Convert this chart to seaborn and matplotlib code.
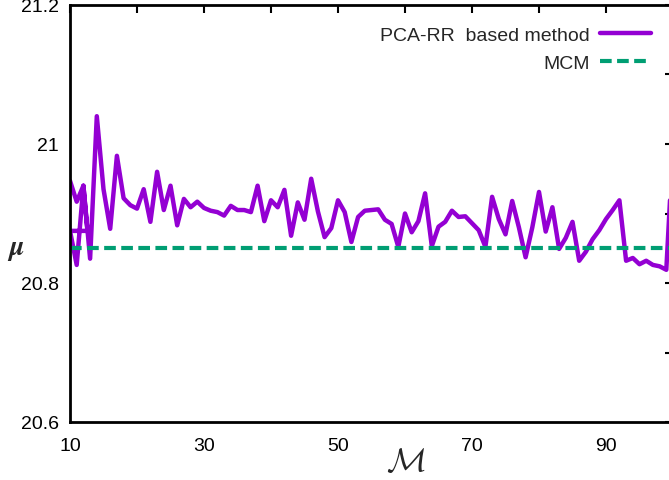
import matplotlib
matplotlib.use("Agg")
import matplotlib.pyplot as plt
import seaborn as sns
from matplotlib.ticker import FixedLocator, FixedFormatter

# sample size M (the first few runs overlap, so x is not monotonic)
m_values = [10, 11, 12, 12.6, 10, 11, 12, 13] + list(range(14, 101))
pca_rr = [20.947, 20.917, 20.94, 20.875, 20.875, 20.826, 20.94, 20.835,
          21.04, 20.935, 20.878, 20.983, 20.922, 20.912, 20.907, 20.935, 20.888, 20.96,
          20.905, 20.94, 20.883, 20.921, 20.909, 20.917, 20.908, 20.904, 20.902, 20.897,
          20.911, 20.905, 20.905, 20.902, 20.94, 20.889, 20.919, 20.909, 20.934, 20.868,
          20.916, 20.891, 20.95, 20.903, 20.866, 20.879, 20.919, 20.902, 20.859, 20.895,
          20.904, 20.905, 20.906, 20.891, 20.885, 20.852, 20.9, 20.873, 20.889, 20.929,
          20.853, 20.881, 20.888, 20.904, 20.895, 20.896, 20.886, 20.876, 20.852, 20.924,
          20.892, 20.87, 20.918, 20.88, 20.837, 20.88, 20.931, 20.874, 20.909, 20.849,
          20.865, 20.888, 20.832, 20.845, 20.863, 20.876, 20.892, 20.905, 20.919, 20.832,
          20.836, 20.827, 20.832, 20.826, 20.824, 20.819, 21.0]
mcm_value = 20.85

x_ticks = [10, 20, 30, 40, 50, 60, 70, 80, 90, 100]
x_labels = ['10', '', '30', '', '50', '', '70', '', '90', '']
y_ticks = [20.6, 20.7, 20.8, 20.9, 21.0, 21.1, 21.2]
y_labels = ['20.6', '', '20.8', '', '21', '', '21.2']

sns.set_style('white')
plt.rcParams['font.family'] = ['Liberation Sans', 'DejaVu Sans']
plt.rcParams['mathtext.fontset'] = 'cm'

fig = plt.figure(figsize=(6.69, 4.81), dpi=100)
ax = fig.add_axes([70 / 669, 58 / 481, 603 / 669, 417 / 481])

sns.lineplot(x=m_values, y=pca_rr, sort=False, estimator=None, ax=ax,
             color='#9400D3', linewidth=3.2, label='PCA-RR  based method')
ax.axhline(mcm_value, color='#009E73', linewidth=3, dashes=(2.8, 1.3),
           dash_capstyle='butt', label='MCM')

ax.set_xlim(10, 100)
ax.set_ylim(20.6, 21.2)
ax.xaxis.set_major_locator(FixedLocator(x_ticks))
ax.xaxis.set_major_formatter(FixedFormatter(x_labels))
ax.yaxis.set_major_locator(FixedLocator(y_ticks))
ax.yaxis.set_major_formatter(FixedFormatter(y_labels))
ax.tick_params(direction='in', length=6, width=1.5, labelsize=14,
               top=True, right=True, colors='black')
ax.tick_params(axis='x', pad=11)
ax.tick_params(axis='y', pad=8)
for s in ax.spines.values():
    s.set_linewidth(2)
    s.set_color('black')

ax.set_xlabel(r'$\mathcal{M}$', fontsize=24, va='center')
ax.xaxis.set_label_coords(0.556, -0.095)
ax.set_ylabel(r'$\boldsymbol{\mu}$', fontsize=20, rotation=0, va='center')
ax.yaxis.set_label_coords(-0.09, 0.415)

ax.legend(loc='upper right', bbox_to_anchor=(651 / 669, 1 - 27 / 481),
          bbox_transform=fig.transFigure, frameon=False, markerfirst=False,
          fontsize=14, handlelength=2.6, handletextpad=0.55, labelspacing=0.55,
          borderpad=0, borderaxespad=0)

fig.savefig('out.png', dpi=100)
